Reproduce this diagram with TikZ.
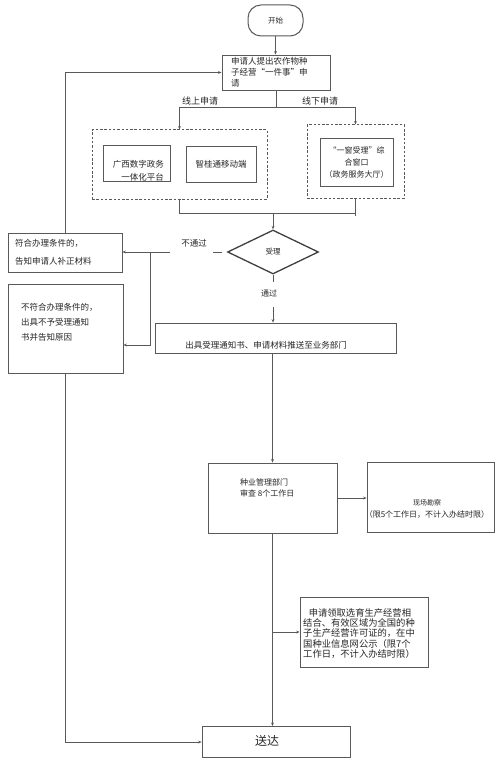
\documentclass[tikz,border=0pt]{standalone}
\usepackage{fontspec}
\setmainfont{Noto Sans CJK SC}
\usetikzlibrary{arrows.meta,shapes.geometric}
\definecolor{lc}{gray}{0.35}
\definecolor{tc}{gray}{0.15}
\begin{document}
\begin{tikzpicture}[x=1pt,y=-1pt,
  box/.style={draw=lc, line width=0.8pt, inner sep=0pt, text=tc},
  dbox/.style={draw=lc, line width=1pt, dash pattern=on 2.5pt off 1.8pt, inner sep=0pt},
  conn/.style={draw=lc, line width=0.8pt},
  arr/.style={conn, -{Stealth[length=3.5pt,width=2.8pt]}},
  txt/.style={text=tc, inner sep=0pt, font=\fontsize{8.5}{11}\selectfont},
  lbl/.style={text=tc, inner sep=0pt, font=\fontsize{8.5}{10}\selectfont},
]
\useasboundingbox[fill=white] (0,0) rectangle (500,762);

% start and application
\node[box, rounded corners=13pt, minimum width=55pt, minimum height=31pt, line width=1pt, font=\fontsize{7.5}{9}\selectfont] (start) at (275.5,20.5) {开始};
\node[box, minimum width=108pt, minimum height=35pt, inner xsep=9pt, align=left, text width=90pt, font=\fontsize{8.5}{11}\selectfont] (apply) at (276,72.5) {申请人提出农作物种\\子经营“一件事”申\\请};
\draw[arr] (start.south) -- (start.south |- apply.north);

% branches
\coordinate (brL) at (179.5,107);
\coordinate (brR) at (355.5,107);
\node[dbox, minimum width=175pt, minimum height=69pt] (online) at (179.5,164.5) {};
\node[dbox, minimum width=97pt, minimum height=73pt] (offline) at (355.5,161.5) {};
\draw[conn] (apply.south) -- (apply.south |- brL);
\draw[conn] (brL) -- (brR);
\draw[arr] (brL) -- (brL |- online.north);
\draw[arr] (brR) -- (brR |- offline.north);
\node[lbl, font=\fontsize{9}{10}\selectfont] (lon) at (200,101) {线上申请};
\node[lbl, font=\fontsize{9}{10}\selectfont] (loff) at (320,101) {线下申请};

\node[box, minimum width=67pt, minimum height=36pt] (gx) at (136.5,163) {};
\node[txt, align=right, anchor=east, font=\fontsize{8.5}{12.5}\selectfont] (gxt) at (164,170.5) {广西数字政务\\一体化平台};
\node[box, minimum width=70pt, minimum height=36pt, font=\fontsize{8.5}{11}\selectfont] (zgt) at (221,164) {智桂通移动端};
\node[box, minimum width=73pt, minimum height=48pt, align=center, font=\fontsize{8}{12}\selectfont] (win) at (356.5,162) {“一窗受理”综\\合窗口\\（政务服务大厅）};

% merge
\coordinate (mM) at (273,213);
\draw[conn] (online.south) -- (online.south |- mM) -- (offline.south |- mM);
\draw[conn] (offline.south) -- ([yshift=-3pt]offline.south |- mM);
\node[draw=black!75, line width=1.3pt, diamond, minimum width=91pt, minimum height=44pt, inner sep=0pt, text=tc, font=\fontsize{7.5}{9}\selectfont] (dia) at (273,252) {受理};
\draw[arr] (mM) -- (dia.north);

% not passed
\node[box, minimum width=114pt, minimum height=39pt] (fuhe) at (65,252.5) {};
\node[txt, align=left, anchor=west, font=\fontsize{8.5}{18}\selectfont] (fuhet) at (15,252) {符合办理条件的，\\告知申请人补正材料};
\node[box, minimum width=115pt, minimum height=89pt] (bufu) at (65.5,328.5) {};
\node[txt, align=left, anchor=north west, font=\fontsize{8.5}{15}\selectfont] (bufut) at (21,303.5) {不符合办理条件的，\\出具不予受理通知\\书并告知原因};
\draw[conn] ([xshift=-5pt]dia.west) -- ++(-9,0);
\node[lbl] (nopass) at (194,243) {不通过};
\coordinate (fs) at (170,252);
\coordinate (fj) at (150,252);
\draw[arr] (fs) -- (fs -| fuhe.east);
\draw[arr] (fj) |- (bufu.east |- 0,345);
\draw[arr] (fuhe.north) |- (apply.west);

% passed
\draw[conn] (dia.south) -- ++(0,7);
\node[lbl, font=\fontsize{8}{9}\selectfont] (pass) at (269,293) {通过};
\node[box, minimum width=241pt, minimum height=30pt] (issue) at (275.5,338) {};
\node[txt] (issuet) at (266,345) {出具受理通知书、申请材料推送至业务部门};
\coordinate (ps) at (273,307);
\draw[arr] (ps) -- (ps |- issue.north);

% review
\node[box, minimum width=129pt, minimum height=70pt] (zhongye) at (272.5,498) {};
\node[txt, align=left, anchor=west, font=\fontsize{8}{10.5}\selectfont] (zyt) at (240,488) {种业管理部门\\审查\ 8个工作日};
\draw[arr] (zhongye.north |- issue.south) -- (zhongye.north);
\node[box, minimum width=127pt, minimum height=70pt] (xc) at (430.5,497) {};
\node[txt, align=center, font=\fontsize{8}{12.5}\selectfont] (xct) at (427,509) {{\fontsize{7}{12.5}\selectfont 现场勘察}\\（限5个工作日，不计入办结时限）};
\draw[arr] (zhongye.east) -- (zhongye.east -| xc.west);

% publicity
\node[box, minimum width=128pt, minimum height=70pt] (gongshi) at (364,632) {};
\node[txt, align=left, anchor=north west, font=\fontsize{9.3}{10.2}\selectfont] (gst) at (303,608.5) {\hspace{0.6em}申请领取选育生产经营相\\结合、有效区域为全国的种\\子生产经营许可证的，在中\\国种业信息网公示（限7个\\工作日，不计入办结时限）};

% delivery
\node[box, minimum width=148pt, minimum height=31pt] (songda) at (276,742) {};
\node[txt, font=\fontsize{12}{14}\selectfont] (sdt) at (267,741) {送达};
\draw[arr] (zhongye.south) -- (zhongye.south |- songda.north);
\draw[arr] (zhongye.south |- gongshi.west) -- (gongshi.west);
\draw[arr] (bufu.south) |- (songda.west);
\end{tikzpicture}
\end{document}
